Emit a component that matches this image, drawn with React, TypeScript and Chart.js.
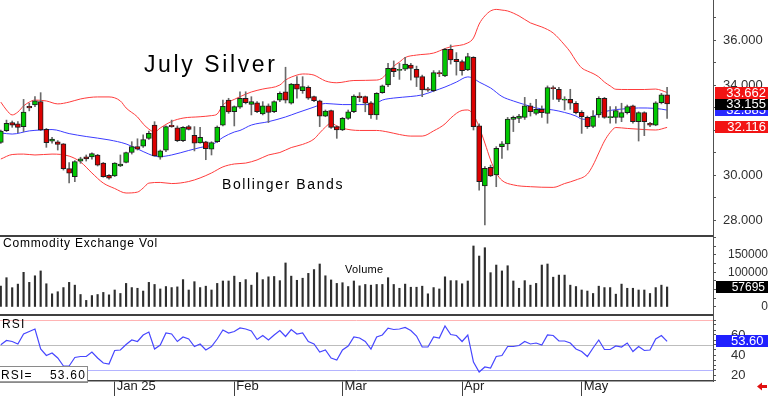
import { useEffect, useRef } from 'react';
import { Chart, registerables } from 'chart.js';

Chart.register(...registerables);

const FONT = "'Liberation Sans', Arial, Helvetica, sans-serif";
Chart.defaults.font.family = FONT;

// ---- candle data (bar index 0 = early Dec 2024) ----
const opens = [31.45, 31.97, 32.33, 32.27, 32.15, 33.05, 33.11, 33.26, 32.03, 31.50,
  31.47, 31.38, 30.28, 29.93, 30.62, 30.81, 30.80, 30.89, 30.53, 29.99,
  29.96, 30.40, 30.56, 31.00, 31.26, 31.28, 31.63, 32.22, 30.79, 31.10,
  32.21, 32.10, 31.53, 32.15, 31.76, 31.43, 31.47, 31.15, 31.48, 32.22,
  33.33, 32.81, 33.01, 33.41, 33.14, 33.21, 32.72, 33.07, 32.81, 33.33,
  33.70, 33.19, 34.04, 33.75, 33.90, 33.48, 33.30, 32.62, 32.86, 32.15,
  32.00, 32.52, 32.81, 33.51, 33.48, 33.21, 32.67, 33.66, 34.00, 34.74,
  34.65, 34.70, 34.89, 34.70, 34.37, 33.83, 33.75, 34.55, 34.40, 35.59,
  35.14, 35.04, 34.67, 35.23, 32.18, 29.51, 30.34, 30.00, 31.26, 31.38,
  32.47, 32.52, 32.56, 33.07, 32.74, 32.92, 32.74, 33.88, 33.81, 33.33,
  33.36, 33.19, 32.78, 32.56, 32.16, 32.67, 33.41, 32.55, 32.56, 32.56,
  32.77, 33.07, 32.37, 32.77, 32.30, 32.22, 33.21, 33.56];
const highs = [32.00, 32.44, 32.40, 32.37, 33.36, 33.19, 33.48, 33.66, 32.07, 31.67,
  31.53, 31.40, 30.55, 30.64, 30.79, 30.89, 30.99, 30.92, 30.56, 30.02,
  30.55, 30.89, 31.02, 31.48, 31.61, 31.78, 31.95, 32.37, 31.11, 32.18,
  32.44, 32.18, 32.15, 32.21, 32.15, 32.12, 31.50, 31.48, 32.18, 33.33,
  33.41, 33.07, 33.70, 33.70, 33.48, 33.26, 33.26, 33.16, 33.30, 33.70,
  34.79, 34.07, 34.37, 34.37, 33.96, 33.51, 33.33, 32.89, 32.89, 32.18,
  32.56, 32.89, 33.56, 33.66, 33.51, 33.26, 33.66, 34.00, 34.96, 35.07,
  34.96, 35.23, 34.96, 34.84, 34.44, 33.90, 34.64, 34.64, 35.63, 35.78,
  35.44, 35.11, 35.41, 35.26, 32.27, 30.37, 30.44, 31.26, 31.48, 32.56,
  32.62, 32.70, 33.45, 33.19, 33.36, 33.07, 33.96, 33.96, 33.90, 33.48,
  33.81, 33.26, 32.86, 32.62, 32.86, 33.48, 33.45, 33.04, 33.04, 33.19,
  33.11, 33.11, 32.81, 32.81, 32.34, 33.26, 33.63, 33.90];
const lows = [31.40, 31.93, 32.12, 31.88, 31.93, 32.85, 33.04, 31.97, 31.23, 31.41,
  31.11, 30.22, 29.65, 29.70, 30.52, 30.62, 30.70, 30.40, 29.90, 29.81,
  29.93, 30.37, 30.54, 30.93, 31.11, 31.23, 31.58, 30.84, 30.70, 31.04,
  32.12, 31.48, 31.48, 32.00, 31.07, 31.41, 30.68, 30.89, 31.44, 32.18,
  32.74, 32.18, 32.96, 33.16, 32.67, 32.77, 32.67, 32.33, 32.77, 33.26,
  33.20, 33.15, 33.41, 33.63, 33.36, 33.26, 32.15, 32.59, 32.07, 31.63,
  31.97, 32.47, 32.77, 33.26, 32.81, 32.52, 32.47, 33.63, 33.93, 34.37,
  34.25, 34.64, 34.22, 33.93, 33.48, 33.72, 33.70, 34.37, 34.37, 34.93,
  34.44, 34.44, 34.64, 32.00, 29.33, 27.78, 29.93, 29.48, 30.74, 31.11,
  31.93, 32.33, 32.47, 32.62, 32.67, 32.56, 32.30, 33.36, 33.26, 32.89,
  32.92, 32.71, 31.85, 32.07, 32.10, 32.56, 32.52, 32.30, 32.30, 32.37,
  32.71, 32.30, 31.51, 31.75, 32.15, 32.19, 33.16, 32.52];
const closes = [31.95, 32.30, 32.22, 32.12, 32.80, 32.98, 33.30, 32.00, 31.44, 31.60,
  31.36, 30.28, 30.08, 30.60, 30.72, 30.71, 30.95, 30.44, 29.93, 29.86,
  30.53, 30.49, 31.00, 31.26, 31.15, 31.57, 31.85, 30.85, 31.07, 32.15,
  32.15, 31.53, 32.12, 32.03, 31.42, 31.67, 31.17, 31.44, 32.13, 33.05,
  32.80, 33.04, 33.41, 33.22, 33.26, 32.81, 33.07, 32.78, 33.26, 33.63,
  33.33, 34.04, 33.81, 33.93, 33.41, 33.30, 32.62, 32.84, 32.12, 32.00,
  32.52, 32.81, 33.51, 33.44, 33.19, 32.67, 33.63, 33.96, 34.74, 34.59,
  34.67, 34.93, 34.74, 34.34, 33.78, 33.77, 34.55, 34.49, 35.59, 35.11,
  35.04, 34.64, 35.26, 32.15, 29.70, 30.30, 29.96, 31.19, 31.38, 32.49,
  32.56, 32.62, 33.07, 32.81, 32.92, 32.77, 33.88, 33.84, 33.36, 33.37,
  33.19, 32.77, 32.59, 32.15, 32.62, 33.41, 32.56, 32.58, 32.86, 32.77,
  33.04, 32.37, 32.77, 32.37, 32.22, 33.21, 33.56, 33.155];

// ---- Bollinger bands (read at selected bars) ----
const upperIdx = [0, 1, 2, 3, 4, 5, 6, 8, 10, 12, 14, 17, 19, 21, 22, 24, 25, 26, 27, 28, 30, 32, 35, 37, 38,
  39, 41, 42, 44, 46, 49, 50, 52, 53, 55, 56, 57, 59, 62, 66, 67, 68, 69, 70, 71, 73, 76, 78, 79, 82,
  83, 84, 85, 86, 87, 88, 89, 91, 93, 95, 97, 99, 100, 101, 102, 103, 104, 105, 106, 107, 108, 110, 113, 115, 116, 117];
const upperBand = [33.24, 32.89, 32.67, 32.80, 33.07, 33.24, 33.33, 33.29, 33.16, 33.24, 33.38, 33.47, 33.47, 33.29, 32.98,
  32.58, 32.27, 32.04, 31.91, 32.09, 32.38, 32.53, 32.59, 32.64, 32.71, 33.11, 33.36, 33.48, 33.69, 33.82,
  34.00, 34.22, 34.44, 34.49, 34.44, 34.31, 34.18, 34.10, 34.20, 34.22, 34.31, 34.58, 34.84, 35.02, 35.22,
  35.33, 35.42, 35.62, 35.70, 35.87, 36.09, 36.71, 37.07, 37.29, 37.36, 37.33, 37.29, 37.07, 36.76, 36.58,
  36.31, 35.78, 35.47, 35.07, 34.76, 34.62, 34.51, 34.36, 34.13, 33.96, 33.81, 33.80, 33.80, 33.82, 33.76, 33.662];
const middleIdx = [0, 2, 5, 7, 9, 12, 15, 19, 22, 24, 26, 27, 28, 30, 33, 35, 37, 38, 39, 41, 42, 44, 47, 50, 52,
  55, 57, 60, 63, 65, 66, 67, 69, 72, 74, 76, 78, 80, 82, 83, 84, 86, 88, 90, 92, 94, 97, 99, 101, 102,
  103, 104, 105, 107, 109, 112, 115, 117];
const middleBand = [31.87, 31.82, 31.96, 32.00, 32.02, 31.84, 31.71, 31.56, 31.38, 31.16, 30.93, 30.84, 30.82, 30.89, 31.09,
  31.22, 31.33, 31.49, 31.67, 31.91, 31.98, 32.22, 32.37, 32.58, 32.76, 33.02, 33.18, 33.13, 33.13, 33.13,
  33.20, 33.33, 33.42, 33.49, 33.56, 33.73, 33.91, 34.13, 34.36, 34.29, 34.13, 33.87, 33.49, 33.29, 33.13,
  32.98, 32.89, 32.78, 32.62, 32.49, 32.47, 32.60, 32.73, 32.87, 32.93, 32.98, 32.96, 32.885];
const lowerIdx = [0, 2, 4, 6, 9, 12, 14, 16, 18, 20, 22, 24, 25, 26, 28, 30, 33, 35, 37, 39, 41, 43, 45, 47, 49,
  51, 53, 55, 56, 57, 58, 59, 60, 63, 66, 68, 70, 72, 74, 76, 78, 79, 81, 82, 83, 84, 85, 86, 87, 88,
  90, 93, 97, 99, 101, 103, 104, 105, 106, 107, 108, 110, 113, 115, 117];
const lowerBand = [30.71, 30.91, 30.93, 30.89, 30.93, 30.84, 30.58, 30.09, 29.64, 29.40, 29.20, 29.24, 29.42, 29.64, 29.67,
  29.62, 29.71, 29.87, 30.09, 30.36, 30.49, 30.53, 30.67, 30.89, 31.00, 31.22, 31.36, 31.60, 31.87, 32.13,
  32.31, 32.18, 32.08, 31.98, 31.98, 31.91, 31.80, 31.73, 31.73, 31.96, 32.27, 32.53, 32.87, 32.89, 32.67,
  32.13, 31.42, 30.67, 30.09, 29.76, 29.56, 29.48, 29.45, 29.62, 29.78, 30.04, 30.44, 30.98, 31.51, 31.89,
  32.11, 32.07, 32.02, 32.00, 32.116];

// ---- volume ----
const volumes = [60000, 84500, 55700, 66000, 100000, 71000, 90000, 104000, 67000, 38000,
  44000, 56000, 71000, 63000, 36000, 19000, 33000, 36000, 42000, 35000,
  49000, 39000, 68000, 56000, 54000, 46000, 71000, 65000, 52000, 59000,
  56000, 58000, 79000, 49000, 73000, 56000, 60000, 49000, 68000, 75000,
  75000, 89000, 71000, 79000, 63000, 99000, 79000, 87000, 88000, 76000,
  127000, 89000, 77000, 83000, 97000, 108000, 124000, 90000, 78000, 68000,
  70000, 59000, 75000, 61000, 65000, 63000, 65000, 65000, 84500, 65000,
  54000, 66000, 57000, 57000, 60000, 38000, 56000, 52000, 87000, 76000,
  76000, 67000, 75000, 176000, 147000, 171000, 99000, 121000, 104000, 119000,
  75000, 54000, 76000, 63000, 68000, 121000, 124000, 86000, 92000, 92000,
  63000, 59000, 49000, 46000, 39000, 60000, 56000, 56000, 37000, 66000,
  54000, 54000, 49000, 49000, 39000, 56000, 63000, 57695];

// ---- RSI ----
const rsi = [50.2, 54.5, 53.5, 51, 61, 63.5, 66, 46, 39.5, 42,
  37, 29, 29, 37.5, 38.5, 38.5, 43, 37, 32, 31,
  44.5, 45, 50.5, 55, 53.5, 60, 63, 46, 50, 62,
  61, 53.5, 58, 56, 48.5, 51, 45, 48.5, 56, 65,
  62, 63.5, 67, 66, 64, 55.5, 59.5, 55, 60, 64.5,
  58.5, 65.5, 61, 62, 53.5, 51, 43, 45, 37, 35,
  45, 49, 58, 57, 53.5, 46, 58, 60, 66.8, 65.5,
  66, 67.5, 64.5, 59, 48, 48, 58, 57, 69, 60.5,
  59.5, 53.5, 60, 33, 23, 28, 27, 38.5, 39.5, 48.5,
  48.5, 49.5, 53.5, 51, 52, 50, 60, 59.5, 54, 54,
  52, 46, 43.5, 38.5, 47, 55, 45.5, 45.5, 49, 48,
  52, 43.5, 48.5, 44.5, 45, 56, 59.5, 53.6];
const rsiLevels = [75, 50, 25];
const rsiLevelColors = ['#ffb4b4', '#bdbdbd', '#b4b4ff'];

// ---- axes ----
const monthTicks = [20, 41, 60, 81, 102];
const monthLabels = ['Jan 25', 'Feb', 'Mar', 'Apr', 'May'];
const priceTicks = [28, 29, 30, 31, 32, 33, 34, 35, 36, 37];
const priceLabelled = [28, 30, 34, 36];
const volumeTicks = [0, 25000, 50000, 75000, 100000, 125000, 150000, 175000, 200000];
const volumeLabelled = [0, 100000, 150000];
const rsiTicks = [15, 20, 25, 30, 35, 40, 45, 50, 55, 60, 65, 70, 75];
const rsiLabelled = [20, 40, 60];

const X_MIN = -0.14, X_MAX = 125.06;
const PRICE_MIN = 27.289, PRICE_MAX = 37.778;
const VOL_MIN = -26000, VOL_MAX = 204800;
const RSI_MIN = 14, RSI_MAX = 79;

const UP = '#00c800';
const DOWN = '#dc0000';
const BAND_RED = '#ff3c3c';
const BAND_BLUE = '#3c3cff';

function yAxis(min: number, max: number, ticks: number[], labelled: number[], fmt: (v: number) => string,
  size: number, padding: number, crossAlign: string): any {
  return {
    type: 'linear', position: 'right', min, max,
    afterBuildTicks: (s: any) => { s.ticks = ticks.map((v) => ({ value: v })); },
    afterFit: (s: any) => { s.width = 55; s.paddingTop = 0; s.paddingBottom = 0; },
    grid: { display: true, drawOnChartArea: false, drawTicks: true, tickLength: 3, tickColor: '#555', color: '#555' },
    border: { display: true, color: '#505050', width: 1 },
    ticks: {
      autoSkip: false, padding, crossAlign, color: '#303030', font: { family: FONT, size },
      callback: (v: number) => (labelled.includes(v) ? fmt(v) : ''),
    },
  };
}

const hiddenX: any = { type: 'linear', min: X_MIN, max: X_MAX, display: false, offset: false };

function drawText(ctx: CanvasRenderingContext2D, text: string, x: number, y: number, size: number,
  spacing: number, color = '#000', align: CanvasTextAlign = 'left') {
  ctx.save();
  ctx.font = `${size}px ${FONT}`;
  (ctx as any).letterSpacing = `${spacing}px`;
  ctx.fillStyle = color;
  ctx.textAlign = align;
  ctx.textBaseline = 'alphabetic';
  ctx.fillText(text, x, y);
  ctx.restore();
}

function valueBox(ctx: CanvasRenderingContext2D, x0: number, y: number, text: string, bg: string,
  size: number, tx: number, align: CanvasTextAlign) {
  ctx.save();
  ctx.fillStyle = bg;
  ctx.fillRect(x0, Math.round(y - 6), 768 - x0, 12);
  ctx.font = `${size}px ${FONT}`;
  ctx.fillStyle = '#ffffff';
  ctx.textAlign = align;
  ctx.textBaseline = 'middle';
  ctx.fillText(text, tx, Math.round(y) + 0.5);
  ctx.restore();
}

const last = (a: number[]) => a[a.length - 1];

const mainOverlay = {
  id: 'mainOverlay',
  afterDraw(chart: any) {
    const { ctx, chartArea } = chart;
    const ys = chart.scales.y;
    drawText(ctx, 'July Silver', 144, 72, 23, 2.6);
    drawText(ctx, 'Bollinger Bands', 222, 189, 14, 1.6);
    const bx = chartArea.right + 2;
    const boxes: [number, string][] = [
      [last(middleBand), '#2828ff'],
      [last(closes), '#000000'],
      [last(upperBand), '#f21414'],
      [last(lowerBand), '#f21414'],
    ];
    boxes.forEach(([v, c]) => valueBox(ctx, bx, ys.getPixelForValue(v), v.toFixed(3), c, 13, 766, 'right'));
    ctx.save();
    ctx.fillStyle = '#404040';
    ctx.fillRect(0, 235, chartArea.right, 1);
    ctx.restore();
  },
};

const volOverlay = {
  id: 'volOverlay',
  afterDraw(chart: any) {
    const { ctx, chartArea } = chart;
    const ys = chart.scales.y;
    ctx.save();
    ctx.fillStyle = '#404040';
    ctx.fillRect(0, 0, chartArea.right, 1);
    ctx.fillRect(0, 78, chartArea.right, 2);
    ctx.restore();
    drawText(ctx, 'Commodity Exchange Vol', 3, 11, 12, 0.8);
    drawText(ctx, 'Volume', 345, 37, 11, 0.3);
    const v = last(volumes);
    valueBox(ctx, chartArea.right + 3, ys.getPixelForValue(v), String(v), '#000000', 12, 765, 'right');
  },
};

const rsiOverlay = {
  id: 'rsiOverlay',
  beforeDatasetsDraw(chart: any) {
    const { ctx, chartArea } = chart;
    const ys = chart.scales.y;
    ctx.save();
    ctx.lineWidth = 1;
    rsiLevels.forEach((lv, k) => {
      const y = Math.round(ys.getPixelForValue(lv)) + 0.5;
      ctx.strokeStyle = rsiLevelColors[k];
      ctx.beginPath();
      ctx.moveTo(chartArea.left, y);
      ctx.lineTo(chartArea.right, y);
      ctx.stroke();
    });
    ctx.restore();
  },
  afterDraw(chart: any) {
    const { ctx, chartArea } = chart;
    const ys = chart.scales.y;
    drawText(ctx, 'RSI', 2, 12, 12, 1.2);
    const r = last(rsi);
    ctx.save();
    ctx.fillStyle = '#ffffff';
    ctx.fillRect(0, 50.5, 87.5, 14.5);
    ctx.strokeStyle = '#8a8a8a';
    ctx.lineWidth = 1;
    ctx.strokeRect(-0.5, 50.5, 88, 16);
    ctx.restore();
    drawText(ctx, 'RSI=', 1, 62.5, 12, 1.2);
    drawText(ctx, r.toFixed(2), 50, 62.5, 12, 1.2);
    valueBox(ctx, chartArea.right + 3, ys.getPixelForValue(r), r.toFixed(2), '#2020ff', 13, 731, 'left');
    // small red arrow marker bottom-right
    ctx.save();
    ctx.fillStyle = '#e01010';
    ctx.beginPath();
    ctx.moveTo(757, 70.5);
    ctx.lineTo(762, 66.5);
    ctx.lineTo(762, 69);
    ctx.lineTo(767, 69);
    ctx.lineTo(767, 72);
    ctx.lineTo(762, 72);
    ctx.lineTo(762, 74.5);
    ctx.closePath();
    ctx.fill();
    ctx.restore();
  },
};

function mainConfig(): any {
  const candleColors = closes.map((c, i) => (c >= opens[i] ? UP : DOWN));
  return {
    type: 'bar',
    data: {
      datasets: [
        {
          type: 'bar', label: 'body', order: 1, grouped: false,
          data: opens.map((o, i) => ({ x: i, y: [o, closes[i]] })),
          backgroundColor: candleColors, borderColor: '#1e1e1e', borderWidth: 1, borderSkipped: false,
          categoryPercentage: 1, barPercentage: 1, maxBarThickness: 5, minBarLength: 1,
        },
        {
          type: 'bar', label: 'wick', order: 2, grouped: false,
          data: lows.map((l, i) => ({ x: i, y: [l, highs[i]] })),
          backgroundColor: '#6a6a6a', borderWidth: 0,
          categoryPercentage: 1, barPercentage: 1, maxBarThickness: 1,
        },
        {
          type: 'line', label: 'upper', order: 3,
          data: upperIdx.map((x, k) => ({ x, y: upperBand[k] })),
          borderColor: BAND_RED, borderWidth: 1, pointRadius: 0, cubicInterpolationMode: 'monotone',
        },
        {
          type: 'line', label: 'middle', order: 3,
          data: middleIdx.map((x, k) => ({ x, y: middleBand[k] })),
          borderColor: BAND_BLUE, borderWidth: 1, pointRadius: 0, cubicInterpolationMode: 'monotone',
        },
        {
          type: 'line', label: 'lower', order: 3,
          data: lowerIdx.map((x, k) => ({ x, y: lowerBand[k] })),
          borderColor: BAND_RED, borderWidth: 1, pointRadius: 0, cubicInterpolationMode: 'monotone',
        },
      ],
    },
    options: {
      animation: false, responsive: false, devicePixelRatio: 1, events: [],
      layout: { padding: 0 },
      plugins: { legend: { display: false }, tooltip: { enabled: false } },
      scales: {
        x: hiddenX,
        y: yAxis(PRICE_MIN, PRICE_MAX, priceTicks, priceLabelled, (v) => v.toFixed(3), 13, 7, 'near'),
      },
    },
    plugins: [mainOverlay],
  };
}

function volConfig(): any {
  return {
    type: 'bar',
    data: {
      datasets: [{
        label: 'volume',
        data: volumes.map((v, i) => ({ x: i, y: v })),
        backgroundColor: '#2e2e2e', barThickness: 1.5, maxBarThickness: 1.5,
      }],
    },
    options: {
      animation: false, responsive: false, devicePixelRatio: 1, events: [],
      layout: { padding: 0 },
      plugins: { legend: { display: false }, tooltip: { enabled: false } },
      scales: {
        x: hiddenX,
        y: yAxis(VOL_MIN, VOL_MAX, volumeTicks, volumeLabelled, (v) => String(v), 12, 10, 'far'),
      },
    },
    plugins: [volOverlay],
  };
}

function rsiConfig(): any {
  return {
    type: 'line',
    data: {
      datasets: [{
        label: 'RSI',
        data: rsi.map((v, i) => ({ x: i, y: v })),
        borderColor: '#4646ff', borderWidth: 1.2, pointRadius: 0, tension: 0,
      }],
    },
    options: {
      animation: false, responsive: false, devicePixelRatio: 1, events: [],
      layout: { padding: 0 },
      plugins: { legend: { display: false }, tooltip: { enabled: false } },
      scales: {
        x: {
          type: 'linear', position: 'bottom', min: X_MIN, max: X_MAX, offset: false,
          afterBuildTicks: (s: any) => { s.ticks = monthTicks.map((v) => ({ value: v })); },
          afterFit: (s: any) => { s.height = 15; s.paddingLeft = 0; s.paddingRight = 0; },
          grid: { display: true, drawOnChartArea: false, drawTicks: true, tickLength: 15, tickColor: '#404040', color: '#404040', offset: false },
          border: { display: true, color: '#404040', width: 1.5 },
          ticks: {
            autoSkip: false, maxRotation: 0, minRotation: 0, align: 'start', padding: -17, labelOffset: 2,
            color: '#202020', font: { family: FONT, size: 13 },
            callback: (_v: number, idx: number) => monthLabels[idx],
          },
        },
        y: yAxis(RSI_MIN, RSI_MAX, rsiTicks, rsiLabelled, (v) => String(v), 13, 15, 'near'),
      },
    },
    plugins: [rsiOverlay],
  };
}

export default function App() {
  const mainRef = useRef<HTMLCanvasElement>(null);
  const volRef = useRef<HTMLCanvasElement>(null);
  const rsiRef = useRef<HTMLCanvasElement>(null);

  useEffect(() => {
    document.body.style.margin = '0';
    const charts = [
      new Chart(mainRef.current as HTMLCanvasElement, mainConfig()),
      new Chart(volRef.current as HTMLCanvasElement, volConfig()),
      new Chart(rsiRef.current as HTMLCanvasElement, rsiConfig()),
    ];
    return () => charts.forEach((c) => c.destroy());
  }, []);

  const cs = (top: number, h: number): any => ({ position: 'absolute', left: 0, top, width: 768, height: h, display: 'block' });

  return (
    <div style={{ position: 'relative', width: 768, height: 396, background: '#ffffff', overflow: 'hidden' }}>
      <canvas ref={mainRef} width={768} height={236} style={cs(0, 236)} />
      <canvas ref={volRef} width={768} height={80} style={cs(236, 80)} />
      <canvas ref={rsiRef} width={768} height={80} style={cs(316, 80)} />
    </div>
  );
}
